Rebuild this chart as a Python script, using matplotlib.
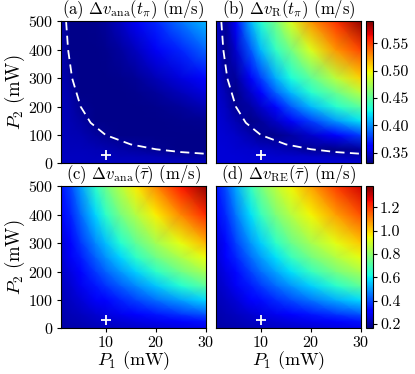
import numpy as np
import matplotlib
matplotlib.use("Agg")
import matplotlib.pyplot as plt

plt.rcParams['font.family'] = 'serif'
plt.rcParams['font.serif'] = ['cmr10']
plt.rcParams['mathtext.fontset'] = 'cm'
plt.rcParams['axes.formatter.use_mathtext'] = True

# grid of the maps (mW)
p1 = [1, 3, 5, 8, 10, 13, 16, 20, 25, 30]
p2 = [0, 25, 50, 100, 150, 200, 250, 300, 400, 500]

# (a) dv_ana(t_pi), rows = p2
dv_ana_tpi = [
    [0.345, 0.345, 0.345, 0.345, 0.345, 0.345, 0.345, 0.345, 0.345, 0.345],
    [0.345, 0.345, 0.345, 0.344, 0.344, 0.343, 0.343, 0.342, 0.340, 0.338],
    [0.345, 0.344, 0.344, 0.343, 0.342, 0.340, 0.338, 0.335, 0.333, 0.333],
    [0.345, 0.343, 0.342, 0.338, 0.335, 0.333, 0.333, 0.333, 0.333, 0.333],
    [0.344, 0.342, 0.339, 0.333, 0.333, 0.333, 0.333, 0.333, 0.334, 0.335],
    [0.344, 0.341, 0.335, 0.333, 0.333, 0.333, 0.333, 0.334, 0.337, 0.343],
    [0.344, 0.339, 0.333, 0.333, 0.333, 0.333, 0.334, 0.337, 0.344, 0.352],
    [0.343, 0.337, 0.333, 0.333, 0.333, 0.334, 0.336, 0.343, 0.352, 0.364],
    [0.343, 0.333, 0.333, 0.333, 0.334, 0.338, 0.345, 0.357, 0.372, 0.388],
    [0.342, 0.333, 0.333, 0.334, 0.337, 0.346, 0.357, 0.372, 0.392, 0.410],
]

# (b) dv_R(t_pi)
dv_r_tpi = [
    [0.350, 0.350, 0.350, 0.350, 0.350, 0.350, 0.350, 0.350, 0.350, 0.350],
    [0.350, 0.350, 0.350, 0.349, 0.349, 0.348, 0.348, 0.347, 0.345, 0.342],
    [0.350, 0.350, 0.349, 0.348, 0.347, 0.344, 0.341, 0.335, 0.333, 0.337],
    [0.350, 0.349, 0.347, 0.341, 0.335, 0.334, 0.339, 0.348, 0.360, 0.378],
    [0.350, 0.347, 0.342, 0.333, 0.337, 0.347, 0.358, 0.378, 0.402, 0.422],
    [0.349, 0.345, 0.335, 0.339, 0.348, 0.364, 0.385, 0.410, 0.433, 0.450],
    [0.349, 0.342, 0.333, 0.348, 0.360, 0.387, 0.410, 0.433, 0.454, 0.480],
    [0.349, 0.338, 0.337, 0.358, 0.378, 0.407, 0.429, 0.450, 0.480, 0.508],
    [0.348, 0.333, 0.348, 0.385, 0.410, 0.437, 0.457, 0.490, 0.525, 0.548],
    [0.347, 0.337, 0.360, 0.410, 0.433, 0.458, 0.490, 0.525, 0.553, 0.585],
]

# (c) dv_ana(tau bar)
dv_ana_tau = [
    [0.203, 0.208, 0.213, 0.221, 0.227, 0.235, 0.243, 0.253, 0.267, 0.280],
    [0.208, 0.216, 0.224, 0.236, 0.245, 0.258, 0.270, 0.286, 0.313, 0.338],
    [0.212, 0.223, 0.234, 0.251, 0.263, 0.286, 0.309, 0.339, 0.378, 0.416],
    [0.221, 0.238, 0.255, 0.293, 0.319, 0.357, 0.395, 0.445, 0.509, 0.572],
    [0.230, 0.253, 0.286, 0.339, 0.375, 0.428, 0.481, 0.551, 0.640, 0.723],
    [0.239, 0.272, 0.317, 0.385, 0.431, 0.499, 0.567, 0.657, 0.756, 0.839],
    [0.248, 0.293, 0.348, 0.431, 0.487, 0.570, 0.653, 0.748, 0.847, 0.940],
    [0.257, 0.314, 0.379, 0.477, 0.543, 0.641, 0.728, 0.824, 0.933, 1.036],
    [0.300, 0.356, 0.441, 0.569, 0.655, 0.762, 0.852, 0.961, 1.095, 1.218],
    [0.330, 0.398, 0.503, 0.661, 0.752, 0.865, 0.963, 1.093, 1.242, 1.360],
]

# (d) dv_RE(tau bar)
dv_re_tau = [
    [0.203, 0.208, 0.213, 0.221, 0.227, 0.235, 0.243, 0.253, 0.267, 0.280],
    [0.208, 0.216, 0.224, 0.236, 0.245, 0.258, 0.270, 0.286, 0.313, 0.338],
    [0.212, 0.223, 0.234, 0.251, 0.263, 0.286, 0.309, 0.339, 0.378, 0.416],
    [0.221, 0.238, 0.257, 0.298, 0.326, 0.366, 0.405, 0.456, 0.520, 0.580],
    [0.230, 0.255, 0.290, 0.346, 0.384, 0.440, 0.494, 0.565, 0.652, 0.730],
    [0.240, 0.276, 0.324, 0.395, 0.444, 0.514, 0.582, 0.670, 0.765, 0.840],
    [0.250, 0.298, 0.357, 0.444, 0.502, 0.585, 0.667, 0.758, 0.850, 0.930],
    [0.260, 0.320, 0.390, 0.492, 0.558, 0.655, 0.739, 0.830, 0.925, 1.010],
    [0.300, 0.365, 0.455, 0.584, 0.668, 0.772, 0.856, 0.950, 1.065, 1.170],
    [0.330, 0.410, 0.517, 0.675, 0.762, 0.868, 0.952, 1.060, 1.190, 1.290],
]

# dashed curve (a),(b)
curve_p1 = [2.1, 2.5, 3.3, 5, 7, 10, 15, 20, 25, 30]
curve_p2 = [500, 400, 300, 200, 143, 100, 67, 50, 40, 34]

# working point
mark_p1, mark_p2 = 10, 30

titles = [r"(a) $\Delta v_\mathrm{ana}(t_\pi)$ (m/s)",
          r"(b) $\Delta v_\mathrm{R}(t_\pi)$ (m/s)",
          r"(c) $\Delta v_\mathrm{ana}(\bar{\tau})$ (m/s)",
          r"(d) $\Delta v_\mathrm{RE}(\bar{\tau})$ (m/s)"]

fig = plt.figure(figsize=(4.15, 3.74), dpi=100)
X, Y = np.meshgrid(p1, p2)

left = [0.146, 0.520]
bottom = [0.563, 0.122]
w, h = 0.350, 0.380
maps = [dv_ana_tpi, dv_r_tpi, dv_ana_tau, dv_re_tau]
lims = [(0.33, 0.59), (0.163, 1.38)]

for i in range(4):
    r, c = divmod(i, 2)
    ax = fig.add_axes([left[c], bottom[r], w, h])
    vmin, vmax = lims[r]
    m = ax.pcolormesh(X, Y, np.array(maps[i]), shading='gouraud', cmap='jet',
                      vmin=vmin, vmax=vmax, rasterized=True)
    if r == 0:
        ax.plot(curve_p1, curve_p2, color='white', ls=(0, (5, 3)), lw=1.3)
    ax.plot(mark_p1, mark_p2, marker='+', color='white', ms=7, mew=1.3)
    ax.set_xlim(1, 30)
    ax.set_ylim(0, 500)
    ax.set_title(titles[i], fontsize=12, pad=1.5)
    ax.set_xticks([10, 20, 30])
    ax.set_yticks([0, 100, 200, 300, 400, 500])
    ax.tick_params(labelsize=11.5, length=3, direction='out', pad=2)
    if r == 0:
        ax.tick_params(axis='x', bottom=False, labelbottom=False)
    else:
        ax.set_xlabel(r"$P_1$ (mW)", fontsize=13, labelpad=-1)
    if c == 1:
        ax.tick_params(axis='y', left=False, labelleft=False)
        cax = fig.add_axes([0.881, bottom[r], 0.018, h])
        cb = fig.colorbar(m, cax=cax)
        cb.ax.tick_params(labelsize=11.5, length=3, pad=2)
        if r == 0:
            cb.set_ticks([0.35, 0.40, 0.45, 0.50, 0.55])
            cb.ax.set_yticklabels(["0.35", "0.40", "0.45", "0.50", "0.55"])
        else:
            cb.set_ticks([0.2, 0.4, 0.6, 0.8, 1.0, 1.2])
            cb.ax.set_yticklabels(["0.2", "0.4", "0.6", "0.8", "1.0", "1.2"])
    else:
        ax.set_ylabel(r"$P_2$ (mW)", fontsize=13.5, labelpad=1)

fig.savefig("out.png", dpi=100)
